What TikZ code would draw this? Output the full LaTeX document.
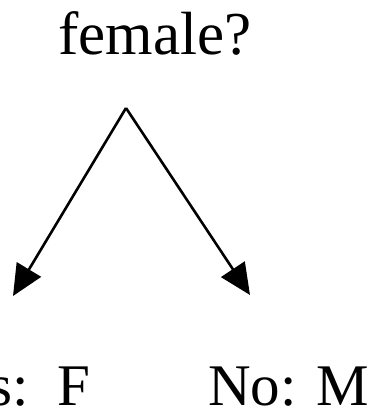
\documentclass[tikz,border=0pt]{standalone}
\usepackage{fontspec}
\setmainfont{Liberation Serif}
\usetikzlibrary{arrows.meta, positioning}

\begin{document}
\begin{tikzpicture}[x=1pt, y=-1pt, >={Triangle[length=31pt, width=28pt]},
    label/.style={inner sep=0pt, font=\fontsize{61pt}{70pt}\selectfont},
    answer/.style={label, font=\fontsize{59pt}{68pt}\selectfont},
    branch/.style={->, line width=2.6pt}]
    \useasboundingbox (0,0) rectangle (374,408);

    % 1. Câu hỏi
    \node[label, anchor=base] (question) at (155,54) {female?};
    \coordinate (apex) at (126,108);

    % 2. Hai nhánh
    \coordinate (yestip) at (13,296);
    \coordinate (notip) at (250,295);
    \draw[branch] (apex) -- (yestip);
    \draw[branch] (apex) -- (notip);

    % 3. Kết quả
    \node[answer, anchor=base east] (yes) at (91,405) {Yes:\ \ F};
    \node[answer, anchor=base west] (no) at (208,405) {No: M};
\end{tikzpicture}
\end{document}
